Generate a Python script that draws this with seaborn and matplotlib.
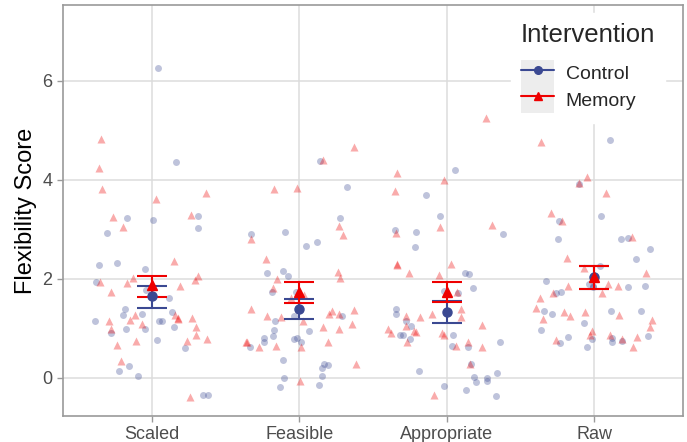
import numpy as np
import pandas as pd
import matplotlib
matplotlib.use("Agg")
import matplotlib.pyplot as plt
import seaborn as sns
from matplotlib.lines import Line2D
from matplotlib.patches import Rectangle
from matplotlib.legend_handler import HandlerTuple

measures = ["Scaled", "Feasible", "Appropriate", "Raw"]
groups = ["Control", "Memory"]

# raw scores
scaled_control = [6.27, 4.36, 3.24, 3.20, 3.27, 3.03, 2.92, 2.32, 2.29, 2.20, 1.94, 1.78, 1.62, 1.39, 1.33, 1.16,
                  1.16, 1.16, 1.27, 1.29, 0.99, 1.04, 0.99, 0.90, 0.77, 0.61, 0.24, 0.15, 0.04, -0.34, -0.34]
scaled_memory = [4.82, 4.24, 3.82, 3.73, 3.62, 3.29, 3.25, 3.05, 2.36, 2.07, 2.01, 1.93, 1.97, 1.91, 1.86, 1.74, 1.28,
                 1.22, 1.22, 1.28, 1.19, 1.15, 1.17, 1.10, 1.04, 0.99, 0.87, 0.75, 0.78, 0.75, 0.67, 0.35, -0.38]
feasible_control = [4.38, 3.86, 3.23, 2.94, 2.90, 2.74, 2.67, 2.16, 2.12, 2.07, 1.74, 1.74, 1.15, 1.26, 1.25, 0.94,
                    0.96, 0.85, 0.79, 0.73, 0.81, 0.73, 0.63, 0.80, 0.36, 0.28, 0.27, 0.20, 0.05, 0.00, -0.14, -0.18]
feasible_memory = [4.66, 4.40, 3.84, 3.82, 3.08, 2.88, 2.80, 2.41, 2.14, 2.01, 1.99, 1.82, 1.62, 1.68, 1.39, 1.29,
                   1.16, 1.35, 1.25, 1.37, 1.29, 1.23, 1.10, 1.02, 0.98, 0.72, 0.73, 0.72, 0.65, 0.63, 0.63, 0.28, -0.06]
appropriate_control = [4.21, 3.70, 3.28, 2.98, 2.94, 2.90, 2.64, 2.10, 2.12, 1.82, 1.76, 1.71, 1.39, 1.30, 1.05, 1.15,
                       0.87, 0.87, 0.87, 0.78, 0.73, 0.62, 0.65, 0.28, 0.14, 0.11, -0.01, 0.01, -0.16, -0.07, -0.09,
                       -0.24, -0.36]
appropriate_memory = [5.25, 4.15, 3.99, 3.78, 3.10, 3.06, 2.92, 2.30, 2.30, 2.29, 2.12, 2.08, 1.73, 1.73, 1.40, 1.30,
                      1.23, 1.26, 1.23, 1.08, 1.05, 0.94, 0.92, 0.86, 0.98, 0.90, 0.90, 0.72, 0.72, 0.62, 0.64, 0.28,
                      -0.34]
raw_control = [4.81, 3.91, 3.27, 3.18, 2.80, 2.80, 2.82, 2.61, 2.40, 2.27, 1.96, 1.84, 1.86, 1.83, 1.86, 1.90, 1.74,
               1.71, 1.35, 1.35, 1.35, 1.29, 1.11, 0.97, 0.71, 0.75, 0.73, 0.79, 0.83, 0.81, 0.84, 0.63]
raw_memory = [4.76, 4.07, 3.93, 3.73, 3.33, 3.17, 2.84, 2.42, 2.23, 2.12, 1.86, 1.72, 1.86, 1.72, 1.89, 1.62, 1.33,
              1.41, 1.33, 1.28, 1.19, 1.25, 1.17, 1.03, 0.95, 0.78, 0.87, 0.87, 0.83, 0.77, 0.63]

# group means and interval ends
control_mean = [1.65, 1.39, 1.33, 2.03]
control_lo = [1.41, 1.19, 1.12, 1.80]
control_hi = [1.86, 1.60, 1.55, 2.26]
memory_mean = [1.88, 1.74, 1.74, 2.03]
memory_lo = [1.63, 1.52, 1.54, 1.80]
memory_hi = [2.06, 1.93, 1.93, 2.27]

colors = {"Control": "#3B4992", "Memory": "#EE0000"}
markers = {"Control": "o", "Memory": "^"}

raw = {
    ("Scaled", "Control"): scaled_control, ("Scaled", "Memory"): scaled_memory,
    ("Feasible", "Control"): feasible_control, ("Feasible", "Memory"): feasible_memory,
    ("Appropriate", "Control"): appropriate_control, ("Appropriate", "Memory"): appropriate_memory,
    ("Raw", "Control"): raw_control, ("Raw", "Memory"): raw_memory,
}
rows = []
for (m, g), vals in raw.items():
    for v in vals:
        rows.append({"measure": m, "group": g, "score": v})
df = pd.DataFrame(rows)

summary = pd.DataFrame({
    "measure": measures * 2,
    "group": ["Control"] * 4 + ["Memory"] * 4,
    "mean": control_mean + memory_mean,
    "lo": control_lo + memory_lo,
    "hi": control_hi + memory_hi,
})

sns.set_style("white")
plt.rcParams["font.family"] = ["Liberation Sans", "DejaVu Sans"]

fig = plt.figure(figsize=(6.87, 4.42), dpi=100)
ax = fig.add_axes([63 / 687, 1 - 416 / 442, 620 / 687, 411 / 442])

np.random.seed(3)
for g in groups:
    sns.stripplot(data=df[df["group"] == g], x="measure", y="score", order=measures,
                  color=colors[g], marker=markers[g], alpha=0.33, jitter=0.4,
                  size=5.8 if g == "Memory" else 5, linewidth=0, ax=ax, zorder=2)

for g in groups:
    sub = summary[summary["group"] == g].set_index("measure").loc[measures]
    xs = np.arange(len(measures))
    ax.errorbar(xs, sub["mean"], yerr=[sub["mean"] - sub["lo"], sub["hi"] - sub["mean"]],
                fmt=markers[g], color=colors[g], ms=6.5 if g == "Control" else 7.5,
                elinewidth=1.5, capsize=10.5, capthick=1.5, zorder=4)

ax.set_xlim(-0.6, 3.6)
ax.set_ylim(-0.768, 7.535)
ax.set_yticks([0, 2, 4, 6])
ax.set_xticks(range(len(measures)))
ax.set_xticklabels(measures)
ax.grid(True, color="#DCDCDC", lw=1.1, zorder=0)
ax.set_axisbelow(True)
for s in ax.spines.values():
    s.set_color("#9A9A9A")
    s.set_linewidth(1.2)
ax.tick_params(axis="both", colors="#9A9A9A", labelcolor="#4D4D4D", labelsize=13,
               length=4, width=1, left=True, bottom=True)
ax.set_xlabel("")
ax.set_ylabel("Flexibility Score", fontsize=17, color="black", labelpad=4)

handles = []
for g in groups:
    key = Rectangle((0, 0), 1, 1, facecolor="#EDEDED", edgecolor="none")
    ln = Line2D([], [], color=colors[g], marker=markers[g], lw=1.5, ms=5.5)
    handles.append((key, ln))
leg = ax.legend(handles, groups, handler_map={tuple: HandlerTuple(ndivide=1)},
                title="Intervention", loc="upper right", bbox_to_anchor=(0.987, 1.003),
                fontsize=14, title_fontsize=18.5, frameon=True, framealpha=1,
                edgecolor="white", fancybox=False, handlelength=1.7, handleheight=1.75,
                labelspacing=0, handletextpad=0.6, borderpad=0.5, alignment="left")
leg._legend_box.sep = 9
leg.set_zorder(10)

fig.savefig("out.png", dpi=100)
